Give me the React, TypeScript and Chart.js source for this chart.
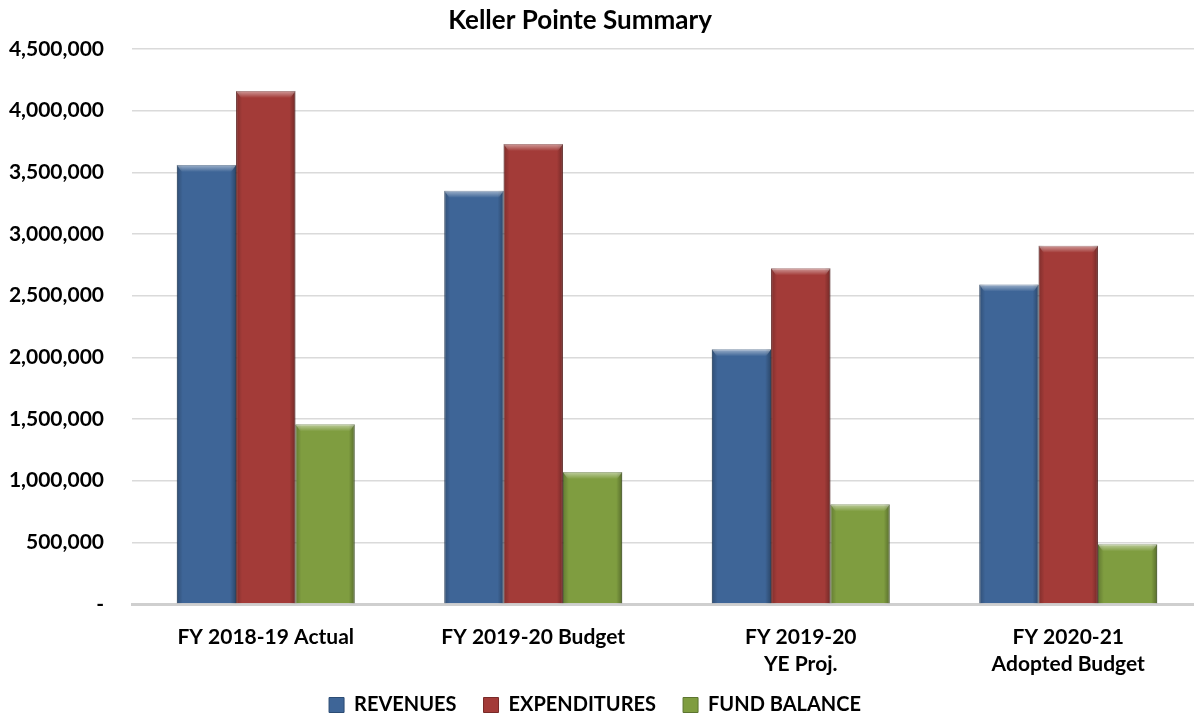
import React, { useEffect, useRef } from 'react';
import { Chart, registerables } from 'chart.js';

Chart.register(...registerables);

// ---- data ----
const categories: string[][] = [
  ['FY 2018-19 Actual'],
  ['FY 2019-20 Budget'],
  ['FY 2019-20', 'YE Proj.'],
  ['FY 2020-21', 'Adopted Budget'],
];
const seriesNames = ['REVENUES', 'EXPENDITURES', 'FUND BALANCE'];
const revenues = [3560000, 3350000, 2065000, 2590000];
const expenditures = [4160000, 3730000, 2722000, 2905000];
const fundBalance = [1457000, 1070000, 808000, 484000];
const yMin = 0;
const yMax = 4500000;
const yStep = 500000;
const titleText = 'Keller Pointe Summary';

// ---- styles ----
const fillColors = ['#3E6597', '#A33B38', '#7F9D40'];
const edgeColors = ['#2C4C74', '#782A28', '#5C7530'];
const FONT = 'Lato, "Open Sans", sans-serif';
const CANVAS_W = 1202;
const CANVAS_H = 717;
const TITLE_CENTER_X = 580;
const LEGEND_CENTER_X = 595;
const LEGEND_TOP = 668;

const placePlugin = {
  id: 'placeTweak',
  afterLayout(chart: any) {
    const t = chart.titleBlock;
    if (t) {
      const d = TITLE_CENTER_X - (t.left + t.right) / 2;
      t.left += d;
      t.right += d;
    }
    const l = chart.legend;
    if (l) {
      const d = LEGEND_CENTER_X - (l.left + l.right) / 2;
      l.left += d;
      l.right += d;
      const h = l.bottom - l.top;
      l.top = LEGEND_TOP;
      l.bottom = LEGEND_TOP + h;
    }
  },
};

const bevelPlugin = {
  id: 'bevel',
  afterDatasetsDraw(chart: any) {
    const ctx: CanvasRenderingContext2D = chart.ctx;
    const area = chart.chartArea;
    ctx.save();
    ctx.beginPath();
    ctx.rect(area.left, area.top - 2, area.right - area.left, area.bottom - area.top + 2);
    ctx.clip();
    chart.data.datasets.forEach((_ds: any, i: number) => {
      const meta = chart.getDatasetMeta(i);
      meta.data.forEach((el: any) => {
        const { x, y, base, width } = el.getProps(['x', 'y', 'base', 'width'], true);
        const left = x - width / 2;
        const right = x + width / 2;
        const h = base - y;
        let g = ctx.createLinearGradient(left, 0, left + 6, 0);
        g.addColorStop(0, 'rgba(0,0,0,0.22)');
        g.addColorStop(1, 'rgba(0,0,0,0)');
        ctx.fillStyle = g;
        ctx.fillRect(left, y, 6, h);
        g = ctx.createLinearGradient(right - 6, 0, right, 0);
        g.addColorStop(0, 'rgba(0,0,0,0)');
        g.addColorStop(1, 'rgba(0,0,0,0.3)');
        ctx.fillStyle = g;
        ctx.fillRect(right - 6, y, 6, h);
        g = ctx.createLinearGradient(0, y, 0, y + 7);
        g.addColorStop(0, 'rgba(255,255,255,0.5)');
        g.addColorStop(1, 'rgba(255,255,255,0)');
        ctx.fillStyle = g;
        ctx.beginPath();
        ctx.moveTo(left, y);
        ctx.lineTo(right, y);
        ctx.lineTo(right - 5, y + 7);
        ctx.lineTo(left + 5, y + 7);
        ctx.closePath();
        ctx.fill();
      });
    });
    ctx.restore();
  },
};

export default function App() {
  const ref = useRef<HTMLCanvasElement | null>(null);

  useEffect(() => {
    if (!ref.current) return;
    const values = [revenues, expenditures, fundBalance];
    const chart = new Chart(ref.current, {
      type: 'bar',
      data: {
        labels: categories,
        datasets: seriesNames.map((name, i) => ({
          label: name,
          data: values[i],
          backgroundColor: fillColors[i],
          borderColor: edgeColors[i],
          borderWidth: 1,
          categoryPercentage: 0.665,
          barPercentage: 1.0,
        })),
      },
      options: {
        responsive: false,
        animation: false,
        devicePixelRatio: 1,
        layout: { padding: { top: 0, left: 0, right: 0, bottom: -24 } },
        plugins: {
          title: {
            display: true,
            text: titleText,
            color: '#000',
            font: { family: FONT, size: 26, weight: 'bold', lineHeight: 1.2 },
            padding: { top: 5.4, bottom: 12.4 },
          },
          legend: {
            display: true,
            position: 'bottom',
            labels: {
              color: '#000',
              font: { family: FONT, size: 20, weight: 'bold' },
              boxWidth: 15,
              boxHeight: 15,
              padding: 27,
            },
          },
          tooltip: { enabled: false },
        },
        scales: {
          x: {
            grid: { display: false, drawTicks: false },
            border: { display: true, color: '#CFCFCF', width: 3 },
            ticks: {
              color: '#000',
              font: { family: FONT, size: 21, weight: 'bold', lineHeight: 27 / 21 },
              padding: 20,
              maxRotation: 0,
              autoSkip: false,
            },
            afterFit: (scale: any) => {
              scale.height = 80;
            },
          },
          y: {
            min: yMin,
            max: yMax,
            grid: { color: '#DADADA', lineWidth: 1.5, drawTicks: false },
            border: { display: false },
            ticks: {
              stepSize: yStep,
              color: '#000',
              font: { family: FONT, size: 21, weight: 'bold' },
              padding: 28,
              callback: (v: any) => (Number(v) === 0 ? '-' : Number(v).toLocaleString('en-US')),
            },
            afterFit: (scale: any) => {
              scale.width = 132;
            },
          },
        },
      },
      plugins: [placePlugin, bevelPlugin],
    });
    return () => chart.destroy();
  }, []);

  return (
    <div
      style={{
        position: 'fixed',
        left: 0,
        top: 0,
        width: 1194,
        height: 717,
        overflow: 'hidden',
        background: '#fff',
      }}
    >
      <canvas
        ref={ref}
        width={CANVAS_W}
        height={CANVAS_H}
        style={{ width: CANVAS_W, height: CANVAS_H, display: 'block' }}
      />
    </div>
  );
}
